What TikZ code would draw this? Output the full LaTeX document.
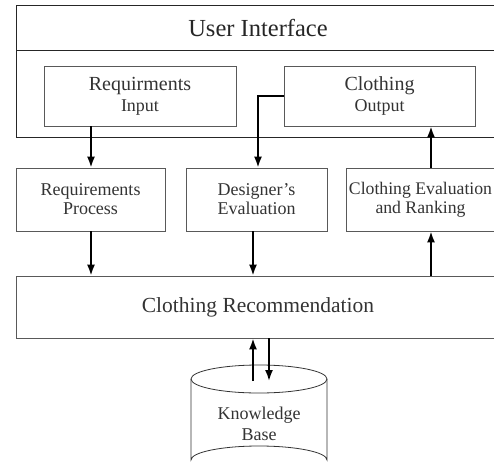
\documentclass[tikz,border=0pt]{standalone}
\usepackage{fontspec}
\setmainfont{Liberation Serif}
\usepackage{tikz}
\usetikzlibrary{arrows.meta,positioning,calc}

\begin{document}
\begin{tikzpicture}[x=1pt,y=-1pt,
  box/.style={rectangle,draw=black!65,line width=0.8pt,text=black!80,align=center,inner sep=0pt},
  uibox/.style={rectangle,draw=black!85,line width=0.9pt,text=black!85,inner sep=0pt},
  arr/.style={line width=1.8pt,-{Latex[length=11pt,width=8pt]}},
  small/.style={font=\fontsize{18}{19}\selectfont}]
\useasboundingbox (0,0) rectangle (494,473);
\clip (0,0) rectangle (494,473);

% User interface
\node[uibox,minimum width=484,minimum height=45,font=\fontsize{24.5}{26}\selectfont] (uititle) at (258,27.5) {User Interface};
\node[uibox,minimum width=484,minimum height=87] (uibody) at (258,93.5) {};
\node[box,minimum width=192,minimum height=60,font=\fontsize{18}{21}\selectfont] (inp) at (140,96) {{\fontsize{20}{21}\selectfont Requirments}\\Input};
\node[box,minimum width=191,minimum height=60,font=\fontsize{18}{21}\selectfont] (out) at (379.5,96) {{\fontsize{20}{21}\selectfont Clothing}\\Output};

% Middle row
\node[box,small,minimum width=149,minimum height=63] (req) at (90.5,199.5) {Requirements\\Process};
\node[box,small,minimum width=141,minimum height=63] (des) at (256.5,199.5) {Designer’s\\Evaluation};
\node[box,minimum width=154,minimum height=63] (eval) at (423,199.5) {};
\node[text=black!80,align=center,inner sep=0pt,font=\fontsize{17.7}{19}\selectfont] (evaltxt) at (420.5,199.5) {Clothing Evaluation\\and Ranking};

% Recommendation
\node[box,minimum width=484,minimum height=62,font=\fontsize{21.5}{23}\selectfont] (rec) at (258,307) {Clothing Recommendation};

% Knowledge base
\draw[black!80,line width=0.8pt] (191,379) -- (191,460) arc[start angle=180,end angle=360,x radius=68,y radius=14] -- (327,379);
\draw[black!80,line width=0.8pt] (259,379) ellipse [x radius=68,y radius=14];
\node[text=black!80,align=center,font=\fontsize{18}{21}\selectfont] (kb) at (259,424) {Knowledge\\Base};
\coordinate (kbup) at (253,381);
\coordinate (kbdown) at (269,381);

% Arrows
\draw[arr] ([xshift=0.5pt]req.north |- inp.south) -- ([xshift=0.5pt]req.north);
\draw[arr] (out.west) -| ([xshift=1.5pt]des.north);
\draw[arr] ([xshift=8pt]eval.north) -- ([xshift=8pt]eval.north |- out.south);
\draw[arr] ([xshift=0.5pt]req.south) -- ([xshift=0.5pt]req.south |- rec.north);
\draw[arr] ([xshift=-3.5pt]des.south) -- ([xshift=-3.5pt]des.south |- rec.north);
\draw[arr] ([xshift=8pt]eval.south |- rec.north) -- ([xshift=8pt]eval.south);
\draw[arr] (kbup) -- (kbup |- rec.south);
\draw[arr] (kbdown |- rec.south) -- (kbdown);
\end{tikzpicture}
\end{document}
